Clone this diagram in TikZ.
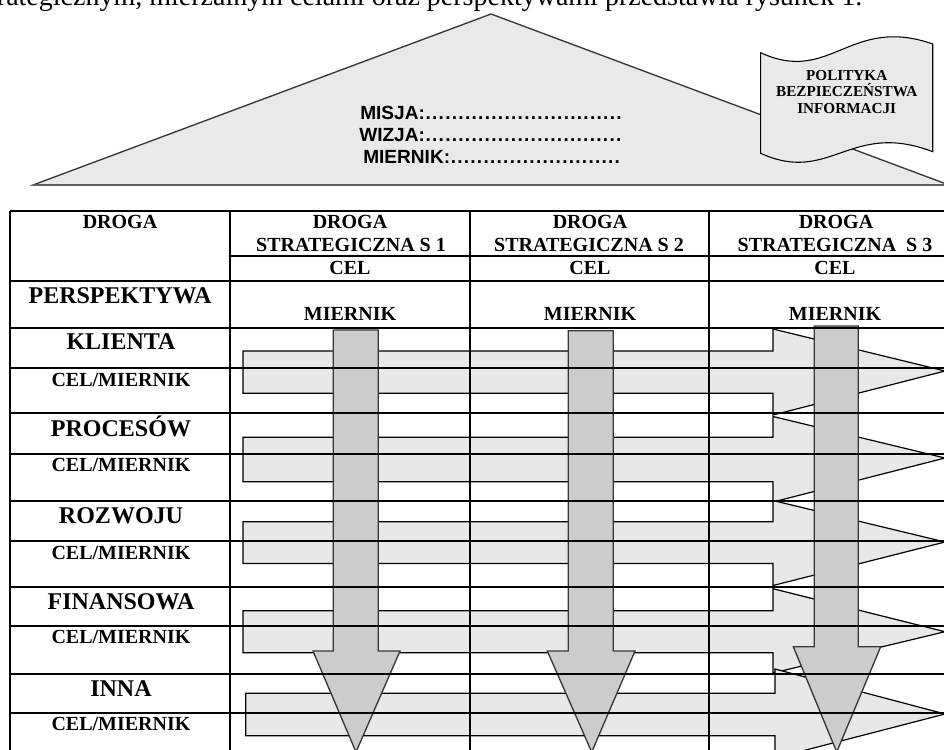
\documentclass[tikz,border=0pt]{standalone}
\usepackage{fontspec}
\setmainfont{Liberation Serif}
\newfontfamily\sansf{Liberation Sans}
\definecolor{rooffill}{RGB}{233,233,233}
\definecolor{hfill}{RGB}{232,232,232}
\definecolor{vfill}{RGB}{204,204,204}
\definecolor{darkedge}{RGB}{55,55,55}
\newcommand\dotrow[2]{\makebox[#1][l]{#2\xleaders\hbox to 4.9pt{\hss.\hss}\hfill}}
\begin{document}
\begin{tikzpicture}[x=0.75pt,y=-0.75pt,
  tline/.style={draw=black,line width=0.95pt},
  hbar/.style={fill=hfill,draw=black,line width=0.9pt,line join=miter},
  vbar/.style={fill=vfill,draw=darkedge,line width=1pt,line join=miter},
  hdr/.style={font=\fontsize{15}{17}\selectfont\bfseries,anchor=base,inner sep=0pt},
  persp/.style={font=\fontsize{18}{20}\selectfont\bfseries,anchor=base,inner sep=0pt},
  mis/.style={font=\fontsize{14.3}{16}\selectfont\sansf\bfseries,anchor=base west,inner sep=0pt}]
\useasboundingbox (0,0) rectangle (944,749);
\clip (0,0) rectangle (944,749);

% clipped line of body text above the figure
\node[anchor=base west,inner sep=0pt,font=\fontsize{21}{24}\selectfont] (intro) at (-22,6)
  {strategicznym, mierzalnym celami oraz perspektywami przedstawia rysunek 1.};

% roof
\draw[fill=rooffill,draw=darkedge,line width=1pt,line join=miter] (33,185) -- (491,14) -- (949,185) -- cycle;
\draw[draw=gray!75!black,line width=1.6pt] (33,185) -- (949,185);

% scroll
\draw[fill=rooffill,draw=black,line width=0.8pt]
  (760.7,52.7) .. controls (830,85) and (850,15) .. (932.7,44)
  -- (932.7,151.7) .. controls (850,120) and (830,185) .. (760.7,153.3) -- cycle;
\node[font=\fontsize{11.4}{12.5}\selectfont\bfseries,align=center,inner sep=0pt] (policy) at (846.7,92)
  {POLITYKA\\BEZPIECZEŃSTWA\\INFORMACJI};

% mission text
\node[mis] (misja) at (360,119) {\dotrow{196.5pt}{MISJA:}};
\node[mis] (wizja) at (359,141) {\dotrow{197pt}{WIZJA:}};
\node[mis] (miernik) at (363,163) {\dotrow{193pt}{MIERNIK:}};

% horizontal arrows
\draw[hbar] (243,351) -- (773,351) -- (773,329) -- (945,371) -- (773,415) -- (773,393.3) -- (243,393.3) -- cycle;
\draw[hbar] (243,437.3) -- (773,437.3) -- (773,416.5) -- (945,458) -- (773,502) -- (773,481.7) -- (243,481.7) -- cycle;
\draw[hbar] (243,521.7) -- (773,521.7) -- (773,500.5) -- (945,542) -- (773,585.5) -- (773,563.5) -- (243,563.5) -- cycle;
\draw[hbar] (243,610.7) -- (773,610.7) -- (773,588.7) -- (945,631.7) -- (773,673) -- (773,652.7) -- (243,652.7) -- cycle;
\draw[hbar] (245.7,693.3) -- (775,693.3) -- (775,669) -- (945,714) -- (775,758) -- (775,735.7) -- (245.7,735.7) -- cycle;

% vertical arrows
\draw[vbar] (333.3,330) -- (378.3,330) -- (378.3,651) -- (400,651) -- (356,752) -- (313,651) -- (333.3,651) -- cycle;
\draw[vbar] (568.3,330.7) -- (613.3,330.7) -- (613.3,651) -- (635,651) -- (591.7,752) -- (547.3,651) -- (568.3,651) -- cycle;
\draw[vbar] (814.3,326) -- (858.3,326) -- (858.3,646.7) -- (880.7,646.7) -- (836.7,752) -- (793.3,646.7) -- (814.3,646.7) -- cycle;

% table grid
\draw[tline] (10,211) -- (950,211);
\draw[tline] (230,256) -- (950,256);
\foreach \yy in {281,328,368,413,454,501,541,587,626,674,713}
  \draw[tline] (10,\yy) -- (950,\yy);
\foreach \xx in {10,230,470,709}
  \draw[tline] (\xx,211) -- (\xx,760);

% header texts
\node[hdr] (h0) at (120,228.5) {DROGA};
\node[hdr] (h1a) at (350,228.5) {DROGA};
\node[hdr] (h1b) at (351,251.5) {STRATEGICZNA S 1};
\node[hdr] (h2a) at (590,228.5) {DROGA};
\node[hdr] (h2b) at (589,251.5) {STRATEGICZNA S 2};
\node[hdr] (h3a) at (836,228.5) {DROGA};
\node[hdr] (h3b) at (835,251.5) {STRATEGICZNA\ \ S 3};
\node[hdr] (cel1) at (350,274.5) {CEL};
\node[hdr] (cel2) at (590,274.5) {CEL};
\node[hdr] (cel3) at (835,274.5) {CEL};
\node[hdr] (mi1) at (350,320.5) {MIERNIK};
\node[hdr] (mi2) at (590,320.5) {MIERNIK};
\node[hdr] (mi3) at (835,320.5) {MIERNIK};

% row labels
\node[persp] (pp) at (120,303) {PERSPEKTYWA};
\node[persp] (kl) at (121,349.7) {KLIENTA};
\node[hdr] (cm1) at (121,386.6) {CEL/MIERNIK};
\node[persp] (pr) at (121,436) {PROCESÓW};
\node[hdr] (cm2) at (121,471.6) {CEL/MIERNIK};
\node[persp] (ro) at (121,523) {ROZWOJU};
\node[hdr] (cm3) at (121,559.3) {CEL/MIERNIK};
\node[persp] (fi) at (121,609.7) {FINANSOWA};
\node[hdr] (cm4) at (121,643.3) {CEL/MIERNIK};
\node[persp] (in) at (121,696.3) {INNA};
\node[hdr] (cm5) at (121,730.6) {CEL/MIERNIK};
\end{tikzpicture}
\end{document}
